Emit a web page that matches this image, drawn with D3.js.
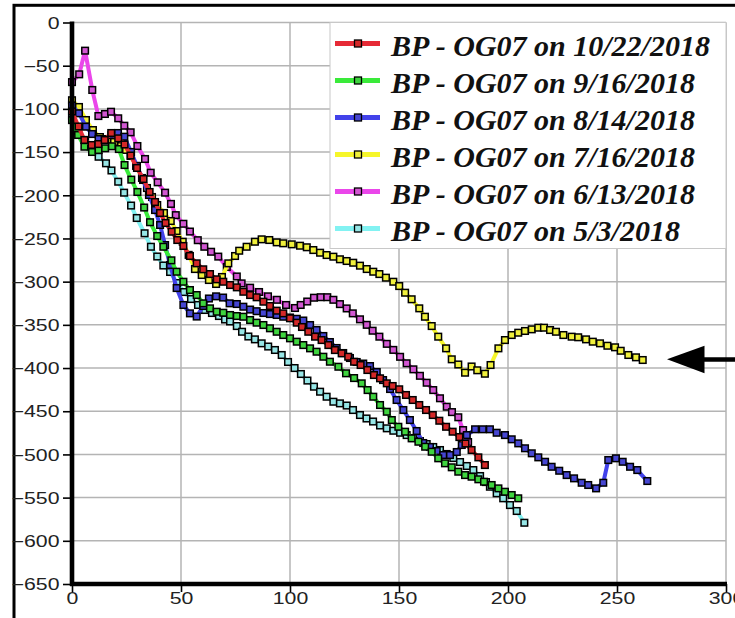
<!DOCTYPE html>
<html>
<head>
<meta charset="utf-8">
<script src="https://cdn.jsdelivr.net/npm/d3@7"></script>
<style>
  html, body { margin: 0; padding: 0; background: #fff; }
  svg { display: block; }
</style>
</head>
<body>
<svg id="chart" width="735" height="618"></svg>
<script>
// ---- data: [distance, level] pairs per survey date ----
const seriesNames = [
  "BP - OG07 on 10/22/2018",
  "BP - OG07 on 9/16/2018",
  "BP - OG07 on 8/14/2018",
  "BP - OG07 on 7/16/2018",
  "BP - OG07 on 6/13/2018",
  "BP - OG07 on 5/3/2018"
];

const oct22 = [[0,-103],[3.0,-120.4],[5.7,-136],[9.0,-141.8],[12.1,-140.7],[15.0,-136],[18.0,-127.9],[21.2,-134.1],[24.1,-141.2],[26.9,-154],[29.8,-168.4],[32.8,-181.2],[35.6,-196.2],[38.1,-207.8],[40.4,-220.5],[42.9,-232.1],[45.7,-242.2],[48.3,-251.8],[51.1,-258.7],[54.1,-270.3],[57.2,-278.8],[60.2,-285.7],[63.3,-291.2],[66.4,-297.3],[69.4,-300.1],[72.5,-303.9],[75.6,-306.6],[78.6,-311.7],[81.7,-315.5],[84.7,-318.1],[87.8,-323.2],[90.8,-328.2],[93.9,-333.6],[96.9,-336.7],[100,-342.4],[103.1,-347.5],[105.5,-352.5],[108.4,-358],[111.5,-363.7],[114.5,-367.6],[117.6,-373.4],[120.6,-379.2],[123.7,-383],[126.7,-386.9],[129.4,-392.7],[132.4,-396.5],[135.5,-402.3],[138.5,-408.1],[141.3,-411.9],[144.4,-417.7],[147.1,-420.8],[150.1,-424.6],[153.2,-431.2],[156.3,-437],[159.3,-442.8],[162.4,-448.6],[165.5,-454.4],[168.5,-461],[171.6,-468],[174.6,-473.7],[177.7,-479.9],[180.5,-487.4],[183.3,-494.9],[186.4,-503.4],[189.4,-512.3]];

const sep16 = [[0,-113],[2.8,-130.2],[5.7,-143.8],[9.2,-149.9],[12.2,-147.6],[15.2,-145.6],[18.3,-143.3],[21.5,-146.5],[24.1,-165],[27.2,-181.9],[30.0,-196.2],[33.1,-214.2],[35.8,-231.2],[39.1,-247.2],[41.9,-259.6],[45.6,-275.3],[48.0,-288.5],[51.1,-300.1],[54.1,-309.7],[57.2,-315.5],[60.2,-325.1],[63.3,-330.9],[66.4,-334.8],[69.4,-336],[72.5,-338.6],[75.6,-339.8],[78.6,-340.6],[81.7,-344.4],[84.7,-347.5],[87.8,-350.2],[90.8,-354],[93.9,-358],[96.9,-361.8],[100,-365.6],[103.1,-369.5],[106.1,-373.4],[109.2,-377.2],[112.2,-381.1],[115.3,-386.9],[118.3,-392.7],[122.2,-398.5],[125.7,-406.1],[129.4,-411.6],[132.9,-417.7],[135.6,-425.5],[138.2,-433.2],[141.3,-442.8],[144.4,-450.6],[146.7,-460.2],[149.7,-468],[152.8,-473.7],[155.8,-481.4],[158.9,-485.3],[162.0,-491.1],[165.0,-496.9],[168.0,-504.5],[171.1,-510.3],[174.2,-514.9],[177.2,-520],[180.3,-523.9],[183.3,-525.8],[186.4,-528.8],[189.0,-531.6],[192.5,-535.4],[195.6,-539.3],[198.6,-543.2],[201.7,-547],[204.7,-550.8]];

const aug14 = [[0,-96],[3.2,-105.1],[6.4,-120.6],[9.2,-129.1],[12.2,-134.9],[15.1,-134.9],[18.1,-130.2],[21.1,-127.9],[24.0,-132.2],[27.1,-149.9],[29.8,-166.1],[32.6,-182.3],[35.3,-199.7],[38.1,-217.1],[40.4,-234.4],[42.7,-257.6],[45.0,-280.7],[48.0,-307.4],[51.1,-327],[54.1,-336.7],[57.2,-340.4],[60.2,-328.2],[62.8,-319.5],[66.1,-317],[69.3,-318.4],[72.3,-325.1],[75.6,-325.9],[78.6,-329],[81.7,-332.3],[84.7,-334.2],[87.8,-336.3],[90.8,-337.5],[93.9,-338.6],[96.9,-340.6],[100,-341.5],[103.1,-343],[106.1,-345],[109.2,-350.2],[112.2,-356],[115.3,-362.9],[118.3,-369.9],[121.4,-376.8],[124.4,-382.6],[127.5,-388.4],[130.6,-393],[133.6,-394.8],[136.7,-397.7],[139.8,-404.6],[142.7,-413.9],[145.9,-424.3],[148.9,-437],[152.0,-448.6],[155.0,-460.2],[158.1,-472.9],[161.1,-486.8],[164.2,-491.4],[167.3,-496.1],[170.3,-500.7],[173.4,-500.7],[176.5,-497.2],[178.8,-489.1],[181.1,-477.6],[184.9,-470.9],[188.4,-470.9],[191.7,-470.9],[194.8,-474.9],[198.6,-477.6],[201.7,-482.5],[204.7,-487.2],[207.8,-492.9],[210.9,-498.7],[213.9,-503.4],[217.0,-508.5],[220.0,-514.3],[223.5,-518.9],[226.9,-523.9],[230.3,-527.7],[233.8,-532.8],[236.8,-535.4],[240.4,-539.3],[243.7,-532.8],[246.0,-506.5],[249.5,-504.5],[252.6,-508.5],[256.0,-514.3],[259.3,-518.1],[263.9,-530.8]];

const jul16 = [[0,-90],[3.2,-97.8],[6.4,-112.9],[9.6,-124.5],[12.8,-132.6],[16.1,-136],[19.3,-138.3],[22.5,-143],[24.8,-147.5],[26.9,-154.5],[29.4,-166],[32.1,-180],[34.4,-191.6],[36.7,-202],[39.1,-211.3],[42.2,-220.5],[45.3,-229.8],[48.0,-241.4],[50.8,-253.8],[53.5,-269],[56.4,-285.4],[59.5,-292.3],[62.8,-298.1],[66.1,-302.7],[68.8,-294.6],[71.7,-278.8],[74.8,-270.3],[76.7,-264.2],[80.1,-259.6],[83.9,-253.8],[87.0,-251],[90.5,-251.8],[93.9,-254.5],[96.9,-255.6],[100.8,-256.8],[104.6,-258.4],[107.7,-260.2],[110.7,-263.4],[113.8,-266.5],[116.8,-269.2],[119.9,-271.1],[122.9,-274.1],[126.0,-276.1],[129.0,-278.1],[132.1,-281.5],[135.2,-285.4],[138.2,-288.5],[141.0,-291.2],[144.0,-295.4],[147.4,-300.1],[150.1,-305.1],[152.8,-312.8],[155.8,-320.4],[159.3,-330.9],[161.9,-340.6],[165.0,-351.4],[168.0,-363.7],[171.6,-377.2],[174.2,-389.9],[177.2,-395.9],[180.3,-405.4],[183.3,-398.2],[185.9,-402.6],[189.4,-406.6],[192.0,-396.5],[195.6,-377.2],[198.6,-367.6],[201.7,-361.8],[204.7,-359.1],[207.8,-357.1],[210.9,-355.2],[213.9,-353.3],[216.5,-353.3],[219.3,-356],[222.0,-358],[225.4,-361.8],[229.2,-363.7],[232.2,-364.4],[235.8,-366.8],[238.9,-369.5],[242.2,-371.4],[245.6,-374.2],[249.1,-376],[251.7,-380],[255.2,-384.9],[258.7,-387.6],[261.8,-390.7]];

const jun13 = [[0,-69],[3.3,-60],[6.0,-32.6],[9.3,-78.1],[12.1,-108.3],[15.1,-105.9],[17.9,-103.3],[21.2,-110.9],[24.0,-119.5],[26.9,-127.1],[30.0,-143],[33.5,-158],[36.1,-173.9],[39.3,-185],[42.7,-197],[45.4,-210],[47.6,-223],[51.1,-233],[54.1,-242],[57.7,-252],[60.7,-259.6],[63.8,-265.4],[67.1,-271],[71.0,-283],[75.6,-294],[77.8,-302],[81.7,-307],[85.8,-312],[89.9,-317],[94.0,-321],[98.2,-327],[102.3,-330.5],[104.9,-327],[107.9,-323],[111.0,-318.6],[114.1,-318],[117.1,-318],[119.9,-321],[122.9,-326],[126.0,-331],[128.8,-336.7],[132.1,-343.6],[135.2,-350],[137.9,-356.8],[141.0,-363.7],[144.4,-372],[147.4,-379],[150.5,-387],[153.5,-394.5],[156.6,-401.5],[159.6,-409],[162.7,-417],[165.7,-425.5],[168.8,-435],[171.9,-444.8],[174.3,-451],[177.2,-457],[179.4,-471.8],[181.7,-485.7]];

const may3 = [[0,-108],[2.8,-125.6],[6.0,-136],[9.2,-145.3],[12.2,-155.4],[15.6,-163],[18.1,-171.3],[21.2,-184.3],[23.9,-197],[27.1,-211.9],[29.7,-226.3],[33.3,-244],[36.2,-259.6],[39.1,-270.9],[41.9,-281.3],[45.0,-288.8],[48.2,-301.6],[51.4,-312],[54.6,-320.1],[57.8,-327],[61.0,-332.8],[64.2,-336.3],[67.4,-339.8],[70.2,-343.8],[72.5,-346.1],[75.6,-351.4],[78.0,-358],[80.9,-363.5],[83.9,-366.8],[87.0,-371.4],[90.0,-375.1],[93.1,-379.1],[96.2,-384.9],[99.1,-393],[102.1,-400],[105.0,-406.9],[108.0,-414.5],[111.0,-421.6],[113.8,-427.4],[116.8,-433.2],[119.9,-439],[122.9,-440.9],[126.0,-443.4],[128.9,-448.6],[132.1,-454.4],[135.1,-458.4],[138.1,-461.9],[141.3,-466.5],[144.4,-469.8],[147.4,-472.6],[150.5,-474.9],[153.5,-477.6],[156.6,-481],[159.6,-484.5],[162.7,-488],[165.7,-491.4],[168.8,-494.9],[171.9,-499.5],[174.9,-504.2],[178.0,-508.8],[181.1,-513.4],[184.1,-518.1],[187.2,-525],[189.9,-532],[191.7,-537.4],[194.8,-545],[197.8,-550.8],[200.9,-558.6],[204.0,-565.5],[207.5,-579.1]];

const xTicks = [0, 50, 100, 150, 200, 250, 300];
const yTicks = [0, -50, -100, -150, -200, -250, -300, -350, -400, -450, -500, -550, -600, -650];

// ---- styling per series (legend order) ----
const seriesData = [oct22, sep16, aug14, jul16, jun13, may3];
const lineColors = ["#e62a36", "#3aea3a", "#4242ea", "#f6f62a", "#ea46ea", "#82f2f2"];
const fillColors = ["#d42828", "#3ed43e", "#4646d2", "#f0f03c", "#d256d2", "#96e6e6"];

const svg = d3.select("#chart");
const x = d3.scaleLinear().domain([0, 300]).range([72, 726]);
const y = d3.scaleLinear().domain([-650, 0]).range([584, 22.5]);

// outer frame
svg.append("rect")
  .attr("x", 14).attr("y", 5.3).attr("width", 760).attr("height", 700)
  .attr("fill", "none").attr("stroke", "#000").attr("stroke-width", 3);

// grid
const grid = svg.append("g").attr("stroke", "#b4b4b4").attr("stroke-width", 1.5);
grid.selectAll("line.v").data(xTicks.filter(d => d > 0)).join("line")
  .attr("x1", d => x(d)).attr("x2", d => x(d))
  .attr("y1", y(0)).attr("y2", y(-650));
grid.selectAll("line.h").data(yTicks.filter(d => d > -650)).join("line")
  .attr("x1", x(0)).attr("x2", x(300))
  .attr("y1", d => y(d)).attr("y2", d => y(d));

// series: last in legend drawn first so the 10/22 survey sits on top
const line = d3.line().x(d => x(d[0])).y(d => y(d[1]));
const order = d3.range(seriesData.length).reverse();
const ms = 6.6;
order.forEach(i => {
  const g = svg.append("g");
  g.append("path").datum(seriesData[i])
    .attr("d", line).attr("fill", "none")
    .attr("stroke", lineColors[i]).attr("stroke-width", 4)
    .attr("stroke-linejoin", "round");
  g.selectAll("rect").data(seriesData[i]).join("rect")
    .attr("x", d => x(d[0]) - ms / 2).attr("y", d => y(d[1]) - ms / 2)
    .attr("width", ms).attr("height", ms)
    .attr("fill", fillColors[i]).attr("stroke", "#000").attr("stroke-width", 1.5);
});

// legend
const legend = svg.append("g");
legend.append("rect")
  .attr("x", 330).attr("y", y(0)).attr("width", x(300) - 330).attr("height", 226)
  .attr("fill", "#fff").attr("stroke", "#c8c8c8").attr("stroke-width", 1);
seriesNames.forEach((name, i) => {
  const base = 55.5 + i * 37;
  const ly = base - 12;
  legend.append("line").attr("x1", 335).attr("x2", 380).attr("y1", ly).attr("y2", ly)
    .attr("stroke", lineColors[i]).attr("stroke-width", 5);
  legend.append("rect").attr("x", 358 - 3.5).attr("y", ly - 3.5).attr("width", 7).attr("height", 7)
    .attr("fill", fillColors[i]).attr("stroke", "#000").attr("stroke-width", 1.3);
  legend.append("text").attr("x", 391).attr("y", base)
    .attr("font-family", "'Liberation Serif', 'Times New Roman', serif")
    .attr("font-style", "italic").attr("font-weight", "bold")
    .attr("font-size", 30).attr("fill", "#111").text(name);
});

// axes
const labelFont = "'Liberation Sans', Arial, sans-serif";
const yAxis = svg.append("g").attr("transform", `translate(${x(0)},0)`)
  .call(d3.axisLeft(y).tickValues(yTicks).tickSize(9).tickFormat(d3.format("d")));
const xAxis = svg.append("g").attr("transform", `translate(0,${y(-650)})`)
  .call(d3.axisBottom(x).tickValues(xTicks).tickSize(8).tickFormat(d3.format("d")));
[yAxis, xAxis].forEach(a => {
  a.select(".domain").remove();
  a.selectAll(".tick line").attr("stroke", "#000").attr("stroke-width", 1.6);
  a.selectAll(".tick text").attr("font-family", labelFont).attr("font-size", 16).attr("fill", "#222");
});
yAxis.selectAll(".tick text").attr("x", null).attr("dy", "0.36em")
  .attr("transform", "translate(-12.5,0) scale(1.33,1)");
xAxis.selectAll(".tick text").attr("y", null).attr("dy", null)
  .attr("transform", "translate(0,19.5) scale(1.33,1)");

// heavy axis lines
svg.append("line").attr("x1", x(0)).attr("x2", x(0)).attr("y1", y(0) - 1).attr("y2", y(-650) + 2)
  .attr("stroke", "#000").attr("stroke-width", 4.6);
svg.append("line").attr("x1", x(0) - 2).attr("x2", x(300) + 1).attr("y1", y(-650)).attr("y2", y(-650))
  .attr("stroke", "#000").attr("stroke-width", 4.4);

// pointer arrow at the right margin
svg.append("path").attr("d", "M667,359.3 L704.5,345.8 L704.5,373.3 Z").attr("fill", "#000");
svg.append("line").attr("x1", 702).attr("x2", 736).attr("y1", 359.5).attr("y2", 359.5)
  .attr("stroke", "#000").attr("stroke-width", 4.5);
</script>
</body>
</html>
